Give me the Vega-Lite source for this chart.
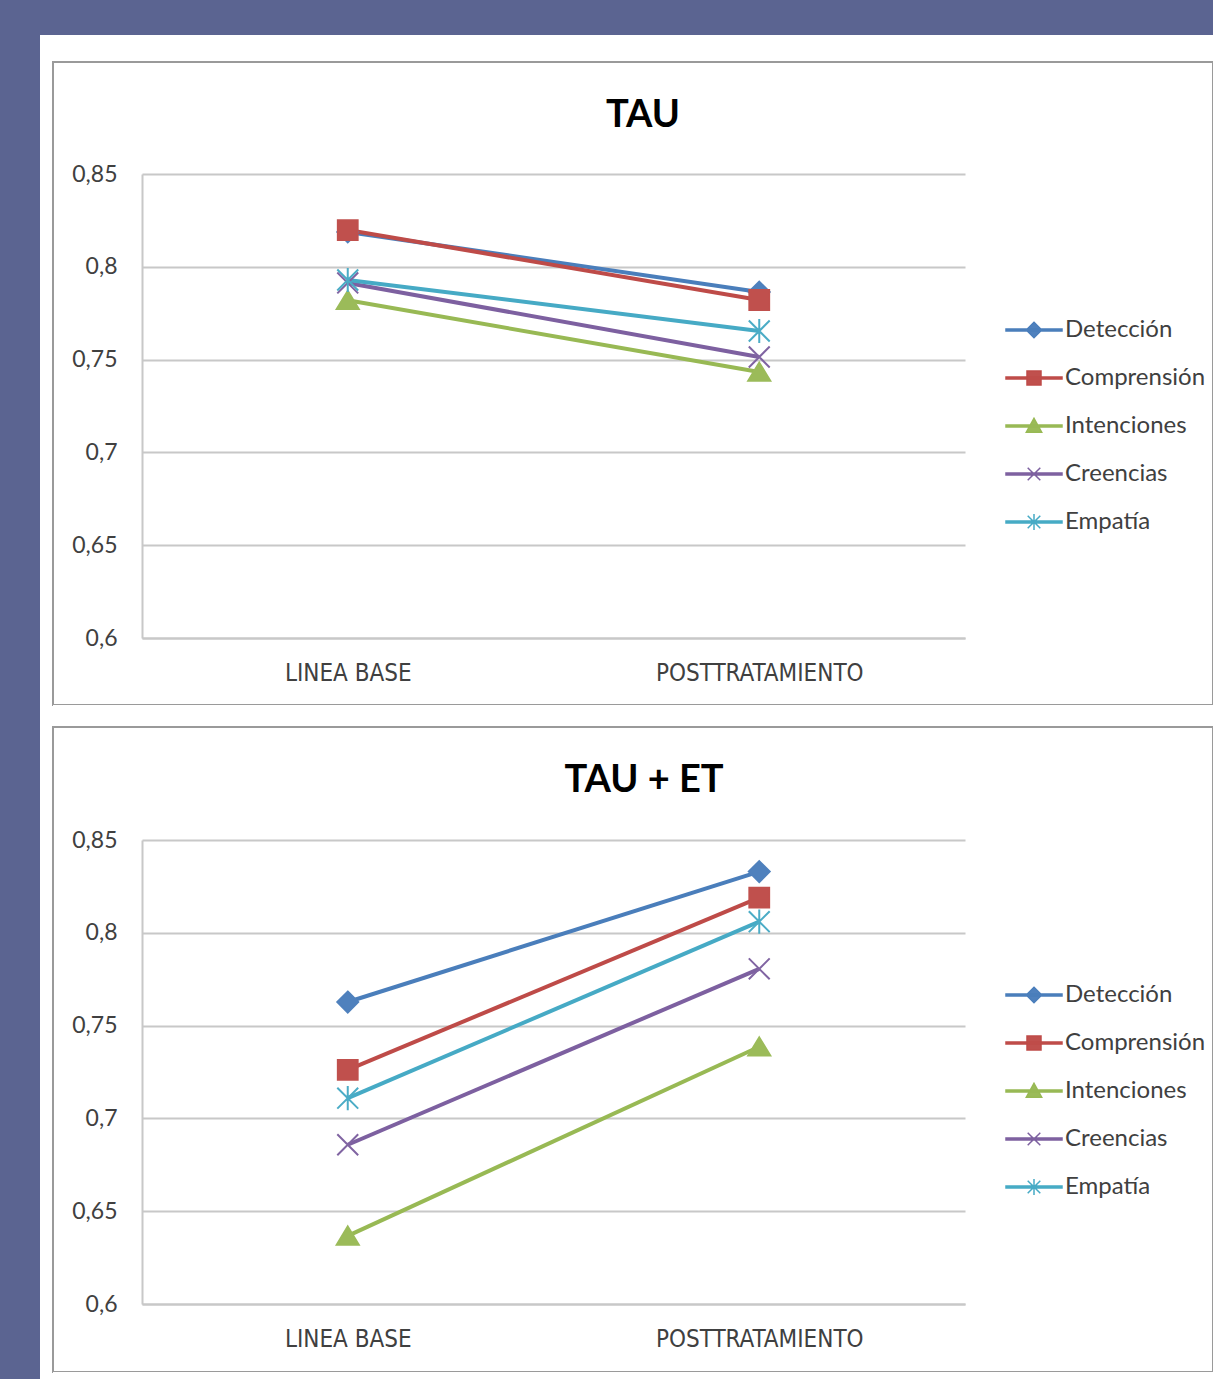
{
  "$schema": "https://vega.github.io/schema/vega-lite/v6.json",
  "background": "#5b6491",
  "padding": {"left": 40, "top": 35, "right": 0, "bottom": 0},
  "autosize": {"type": "pad"},
  "config": {
    "view": {"stroke": null},
    "font": "Lato",
    "title": {"font": "Lato", "fontWeight": "bold", "fontSize": 38, "color": "#000000", "anchor": "middle", "baseline": "alphabetic", "offset": -73},
    "axis": {"ticks": false, "tickSize": 0, "title": null, "domainColor": "#c8c8c8", "domainWidth": 2, "gridColor": "#c8c8c8", "gridWidth": 2, "labelColor": "#404040"},
    "point": {"filled": true, "size": 484, "strokeWidth": 2, "opacity": 1}
  },
  "datasets": {
    "tau": [
      {"serie": "Detección", "fase": "LINEA BASE", "valor": 0.8188},
      {"serie": "Detección", "fase": "POSTTRATAMIENTO", "valor": 0.7864},
      {"serie": "Comprensión", "fase": "LINEA BASE", "valor": 0.8198},
      {"serie": "Comprensión", "fase": "POSTTRATAMIENTO", "valor": 0.7821},
      {"serie": "Intenciones", "fase": "LINEA BASE", "valor": 0.782},
      {"serie": "Intenciones", "fase": "POSTTRATAMIENTO", "valor": 0.7433},
      {"serie": "Creencias", "fase": "LINEA BASE", "valor": 0.7913},
      {"serie": "Creencias", "fase": "POSTTRATAMIENTO", "valor": 0.7514},
      {"serie": "Empatía", "fase": "LINEA BASE", "valor": 0.7929},
      {"serie": "Empatía", "fase": "POSTTRATAMIENTO", "valor": 0.7654}
    ],
    "tauet": [
      {"serie": "Detección", "fase": "LINEA BASE", "valor": 0.7627},
      {"serie": "Detección", "fase": "POSTTRATAMIENTO", "valor": 0.833},
      {"serie": "Comprensión", "fase": "LINEA BASE", "valor": 0.7261},
      {"serie": "Comprensión", "fase": "POSTTRATAMIENTO", "valor": 0.819},
      {"serie": "Intenciones", "fase": "LINEA BASE", "valor": 0.6367},
      {"serie": "Intenciones", "fase": "POSTTRATAMIENTO", "valor": 0.7386},
      {"serie": "Creencias", "fase": "LINEA BASE", "valor": 0.6858},
      {"serie": "Creencias", "fase": "POSTTRATAMIENTO", "valor": 0.7806},
      {"serie": "Empatía", "fase": "LINEA BASE", "valor": 0.7109},
      {"serie": "Empatía", "fase": "POSTTRATAMIENTO", "valor": 0.806}
    ]
  },
  "spacing": 0,
  "bounds": "flush",
  "resolve": {"scale": {"color": "independent"}, "legend": {"color": "independent"}},
  "hconcat": [
    {"width": 13, "height": 1344, "view": {"fill": "#ffffff", "stroke": null}, "data": {"values": []}, "mark": "point"},
    {
      "spacing": 0,
      "bounds": "flush",
      "resolve": {"scale": {"color": "independent"}, "legend": {"color": "independent"}},
      "vconcat": [
        {"width": 1160, "height": 27, "view": {"fill": "#ffffff", "stroke": null}, "data": {"values": []}, "mark": "point"},
        {
          "width": 1160, "height": 643,
          "view": {"fill": "#ffffff", "stroke": "#9a9a9a", "strokeWidth": 2},
          "title": {"text": "TAU", "dx": 10},
          "data": {"name": "tau"},
          "encoding": {
            "x": {"field": "fase", "type": "nominal", "sort": ["LINEA BASE", "POSTTRATAMIENTO"],
              "scale": {"type": "point", "range": [89, 912], "padding": 0.5},
              "axis": {"orient": "bottom", "offset": -67, "labelAngle": 0, "labelPadding": 35, "labelBaseline": "middle", "labelLimit": 400, "labelFont": "Liberation Sans Narrow, DejaVu Sans Condensed, Lato", "labelFontSize": 24, "grid": false}},
            "y": {"field": "valor", "type": "quantitative",
              "scale": {"domain": [0.6, 0.85], "range": [576, 112], "zero": false, "nice": false},
              "axis": {"values": [0.6, 0.65, 0.7, 0.75, 0.8, 0.85], "labelExpr": "replace(format(datum.value, '.2~f'), '.', ',')", "offset": -89, "grid": true, "labelPadding": 25, "labelBaseline": "middle", "labelFont": "Lato", "labelFontSize": 23}}
          },
          "layer": [
            {"mark": {"type": "line", "strokeWidth": 4},
              "encoding": {"color": {"field": "serie", "type": "nominal",
                "scale": {"domain": ["Detección", "Comprensión", "Intenciones", "Creencias", "Empatía"], "range": ["#4a7ebb", "#be4b48", "#98b954", "#7d60a0", "#46aac5"]},
                "legend": {"orient": "none", "legendX": 966, "legendY": 253, "title": null, "padding": 0, "rowPadding": 21, "symbolSize": 784, "labelFont": "Lato", "labelFontSize": 24, "labelColor": "#404040", "labelOffset": 16, "labelBaseline": "middle", "labelLimit": 200, "direction": "vertical",
                  "encode": {"symbols": {"update": {"fill": {"signal": "datum.value === 'Detección' ? '#4f81bd' : datum.value === 'Comprensión' ? '#c0504d' : datum.value === 'Intenciones' ? '#9bbb59' : datum.value === 'Creencias' ? '#8064a2' : '#4bacc6'"}, "stroke": {"signal": "datum.value === 'Detección' ? '#4f81bd' : datum.value === 'Comprensión' ? '#c0504d' : datum.value === 'Intenciones' ? '#9bbb59' : datum.value === 'Creencias' ? '#8064a2' : '#4bacc6'"}, "strokeWidth": {"value": 1.5}, "shape": {"signal": "datum.value === 'Detección' ? 'M-2,-0.07H2V0.07H-2Z M0,-0.55L0.55,0L0,0.55L-0.55,0Z' : datum.value === 'Comprensión' ? 'M-2,-0.07H2V0.07H-2Z M-0.5,-0.5H0.5V0.5H-0.5Z' : datum.value === 'Intenciones' ? 'M-2,-0.07H2V0.07H-2Z M0,-0.55L0.55,0.45H-0.55Z' : datum.value === 'Creencias' ? 'M-2,-0.07H2V0.07H-2Z M-0.45,-0.45L0.45,0.45M-0.45,0.45L0.45,-0.45' : 'M-2,-0.07H2V0.07H-2Z M-0.45,-0.45L0.45,0.45M-0.45,0.45L0.45,-0.45M0,-0.58V0.58'"}}}}}}}},
            {"transform": [{"filter": "datum.serie === 'Detección'"}], "mark": {"type": "point", "shape": "M0,-0.95L0.95,0L0,0.95L-0.95,0Z", "fill": "#4f81bd", "stroke": "#4f81bd"}},
            {"transform": [{"filter": "datum.serie === 'Comprensión'"}], "mark": {"type": "point", "shape": "M-0.9,-0.9H0.9V0.9H-0.9Z", "fill": "#c0504d", "stroke": "#c0504d"}},
            {"transform": [{"filter": "datum.serie === 'Intenciones'"}], "mark": {"type": "point", "shape": "M0,-0.85L1,0.8H-1Z", "fill": "#9bbb59", "stroke": "#9bbb59"}},
            {"transform": [{"filter": "datum.serie === 'Creencias'"}], "mark": {"type": "point", "shape": "M-0.95,-0.95L0.95,0.95M-0.95,0.95L0.95,-0.95", "fill": "#8064a2", "stroke": "#8064a2"}},
            {"transform": [{"filter": "datum.serie === 'Empatía'"}], "mark": {"type": "point", "shape": "M-0.95,-0.95L0.95,0.95M-0.95,0.95L0.95,-0.95M0,-1.1V1.1", "fill": "#4bacc6", "stroke": "#4bacc6"}}
          ]
        },
        {"width": 1160, "height": 22, "view": {"fill": "#ffffff", "stroke": null}, "data": {"values": []}, "mark": "point"},
        {
          "width": 1160, "height": 645,
          "view": {"fill": "#ffffff", "stroke": "#9a9a9a", "strokeWidth": 2},
          "title": {"text": "TAU + ET", "dx": 11},
          "data": {"name": "tauet"},
          "encoding": {
            "x": {"field": "fase", "type": "nominal", "sort": ["LINEA BASE", "POSTTRATAMIENTO"],
              "scale": {"type": "point", "range": [89, 912], "padding": 0.5},
              "axis": {"orient": "bottom", "offset": -68, "labelAngle": 0, "labelPadding": 35, "labelBaseline": "middle", "labelLimit": 400, "labelFont": "Liberation Sans Narrow, DejaVu Sans Condensed, Lato", "labelFontSize": 24, "grid": false}},
            "y": {"field": "valor", "type": "quantitative",
              "scale": {"domain": [0.6, 0.85], "range": [577, 113], "zero": false, "nice": false},
              "axis": {"values": [0.6, 0.65, 0.7, 0.75, 0.8, 0.85], "labelExpr": "replace(format(datum.value, '.2~f'), '.', ',')", "offset": -89, "grid": true, "labelPadding": 25, "labelBaseline": "middle", "labelFont": "Lato", "labelFontSize": 23}}
          },
          "layer": [
            {"mark": {"type": "line", "strokeWidth": 4},
              "encoding": {"color": {"field": "serie", "type": "nominal",
                "scale": {"domain": ["Detección", "Comprensión", "Intenciones", "Creencias", "Empatía"], "range": ["#4a7ebb", "#be4b48", "#98b954", "#7d60a0", "#46aac5"]},
                "legend": {"orient": "none", "legendX": 966, "legendY": 253, "title": null, "padding": 0, "rowPadding": 21, "symbolSize": 784, "labelFont": "Lato", "labelFontSize": 24, "labelColor": "#404040", "labelOffset": 16, "labelBaseline": "middle", "labelLimit": 200, "direction": "vertical",
                  "encode": {"symbols": {"update": {"fill": {"signal": "datum.value === 'Detección' ? '#4f81bd' : datum.value === 'Comprensión' ? '#c0504d' : datum.value === 'Intenciones' ? '#9bbb59' : datum.value === 'Creencias' ? '#8064a2' : '#4bacc6'"}, "stroke": {"signal": "datum.value === 'Detección' ? '#4f81bd' : datum.value === 'Comprensión' ? '#c0504d' : datum.value === 'Intenciones' ? '#9bbb59' : datum.value === 'Creencias' ? '#8064a2' : '#4bacc6'"}, "strokeWidth": {"value": 1.5}, "shape": {"signal": "datum.value === 'Detección' ? 'M-2,-0.07H2V0.07H-2Z M0,-0.55L0.55,0L0,0.55L-0.55,0Z' : datum.value === 'Comprensión' ? 'M-2,-0.07H2V0.07H-2Z M-0.5,-0.5H0.5V0.5H-0.5Z' : datum.value === 'Intenciones' ? 'M-2,-0.07H2V0.07H-2Z M0,-0.55L0.55,0.45H-0.55Z' : datum.value === 'Creencias' ? 'M-2,-0.07H2V0.07H-2Z M-0.45,-0.45L0.45,0.45M-0.45,0.45L0.45,-0.45' : 'M-2,-0.07H2V0.07H-2Z M-0.45,-0.45L0.45,0.45M-0.45,0.45L0.45,-0.45M0,-0.58V0.58'"}}}}}}}},
            {"transform": [{"filter": "datum.serie === 'Detección'"}], "mark": {"type": "point", "shape": "M0,-0.95L0.95,0L0,0.95L-0.95,0Z", "fill": "#4f81bd", "stroke": "#4f81bd"}},
            {"transform": [{"filter": "datum.serie === 'Comprensión'"}], "mark": {"type": "point", "shape": "M-0.9,-0.9H0.9V0.9H-0.9Z", "fill": "#c0504d", "stroke": "#c0504d"}},
            {"transform": [{"filter": "datum.serie === 'Intenciones'"}], "mark": {"type": "point", "shape": "M0,-0.85L1,0.8H-1Z", "fill": "#9bbb59", "stroke": "#9bbb59"}},
            {"transform": [{"filter": "datum.serie === 'Creencias'"}], "mark": {"type": "point", "shape": "M-0.95,-0.95L0.95,0.95M-0.95,0.95L0.95,-0.95", "fill": "#8064a2", "stroke": "#8064a2"}},
            {"transform": [{"filter": "datum.serie === 'Empatía'"}], "mark": {"type": "point", "shape": "M-0.95,-0.95L0.95,0.95M-0.95,0.95L0.95,-0.95M0,-1.1V1.1", "fill": "#4bacc6", "stroke": "#4bacc6"}}
          ]
        },
        {"width": 1160, "height": 7, "view": {"fill": "#ffffff", "stroke": null}, "data": {"values": []}, "mark": "point"}
      ]
    }
  ]
}
